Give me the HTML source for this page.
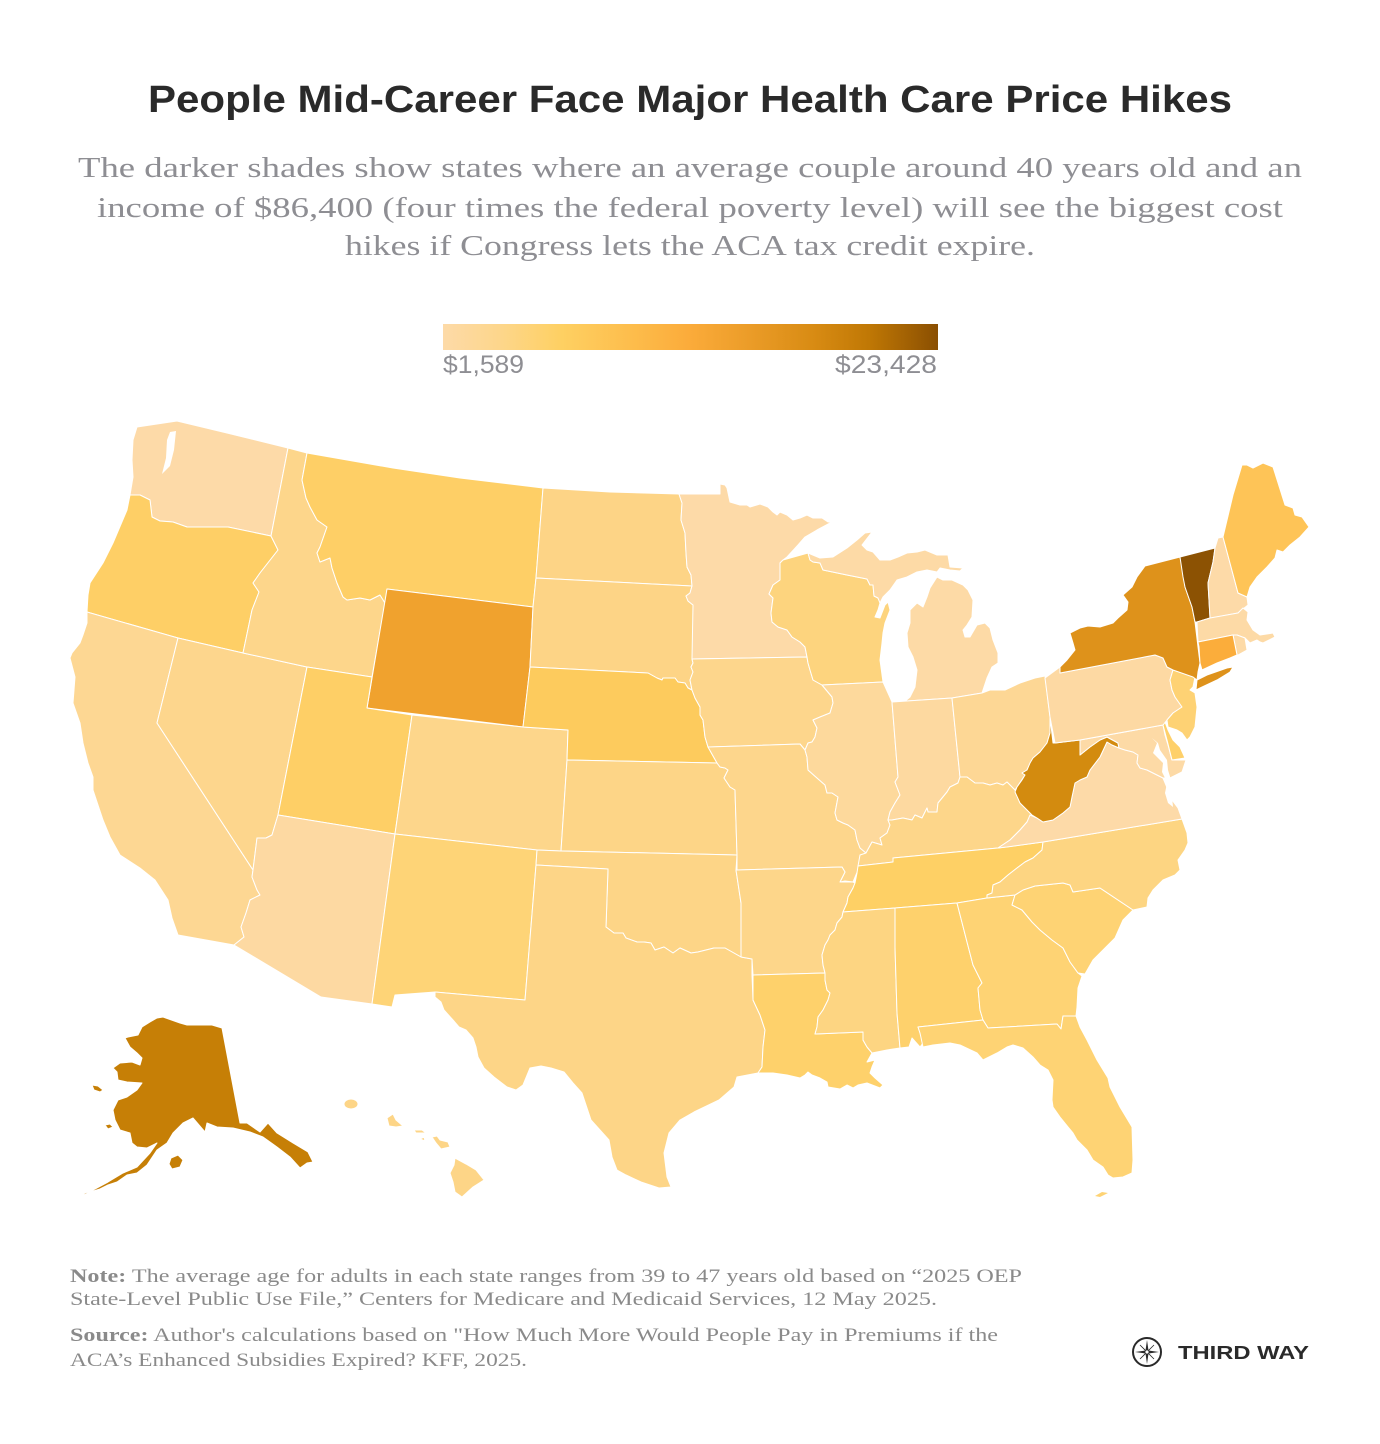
<!DOCTYPE html>
<html><head><meta charset="utf-8"><style>
html,body{margin:0;padding:0;background:#fff}
svg{display:block}
.st{stroke:#fff;stroke-width:1;stroke-linejoin:round}
</style></head><body>
<svg width="1380" height="1444" viewBox="0 0 1380 1444" xmlns="http://www.w3.org/2000/svg">
<defs>
<linearGradient id="lg" x1="0" x2="1" y1="0" y2="0">
<stop offset="0" stop-color="#fddaa8"/>
<stop offset="0.12" stop-color="#fdd68a"/>
<stop offset="0.24" stop-color="#fed062"/>
<stop offset="0.38" stop-color="#fdbd4c"/>
<stop offset="0.5" stop-color="#fbab3a"/>
<stop offset="0.62" stop-color="#eb9c28"/>
<stop offset="0.75" stop-color="#d88b13"/>
<stop offset="0.86" stop-color="#c07805"/>
<stop offset="1" stop-color="#8a4f02"/>
</linearGradient>
</defs>
<rect width="1380" height="1444" fill="#fff"/>

<text x="148" y="112" font-family="Liberation Sans, sans-serif" font-weight="bold" font-size="38" fill="#2a2a2a" textLength="1084" lengthAdjust="spacingAndGlyphs">People Mid-Career Face Major Health Care Price Hikes</text>

<g font-family="Liberation Serif, serif" font-size="29" fill="#8e8e93">
<text x="78" y="177" textLength="1224" lengthAdjust="spacingAndGlyphs">The darker shades show states where an average couple around 40 years old and an</text>
<text x="97" y="217" textLength="1186" lengthAdjust="spacingAndGlyphs">income of $86,400 (four times the federal poverty level) will see the biggest cost</text>
<text x="345" y="255" textLength="690" lengthAdjust="spacingAndGlyphs">hikes if Congress lets the ACA tax credit expire.</text>
</g>

<rect x="443" y="324" width="495" height="26" fill="url(#lg)"/>
<g font-family="Liberation Sans, sans-serif" font-size="25" fill="#8e8e93">
<text x="443" y="373" textLength="81" lengthAdjust="spacingAndGlyphs">$1,589</text>
<text x="835" y="373" textLength="102" lengthAdjust="spacingAndGlyphs">$23,428</text>
</g>

<g class="st">
<!-- WA -->
<polygon fill="#fddaa8" points="137,427 177,421 227,433 288,448 271,536 228,527 203,527 187,527 173,522 160,521 152,517 150,500 140,495 130,495 133,477 132,460 133,440"/>
<!-- OR -->
<polygon fill="#fecf66" points="130,495 140,495 150,500 152,517 160,521 173,522 187,527 203,527 228,527 271,536 278,550 260,573 253,583 259,592 252,610 243,653 178,638 87,612 88,595 90,583 103,563 113,543 127,510"/>
<!-- CA -->
<polygon fill="#fdd793" points="87,612 178,638 157,723 253,870 252,877 257,890 260,895 250,900 246,913 241,927 244,937 234,945 178,935 172,918 168,900 155,880 140,868 120,855 110,837 103,820 93,790 93,777 88,763 83,743 80,723 73,703 75,677 70,658 72,653 80,643 83,635 87,623"/>
<!-- NV -->
<polygon fill="#fdd68d" points="178,638 243,653 307,667 278,815 272,835 266,838 257,838 253,870 157,723"/>
<!-- ID -->
<polygon fill="#fdd68b" points="288,448 307,453 302,480 306,498 310,507 317,520 327,527 320,547 317,553 320,562 330,558 332,568 337,583 343,597 347,600 360,598 370,600 380,595 385,603 372,677 307,667 243,653 252,610 259,592 253,583 260,573 278,550 271,536"/>
<!-- MT -->
<polygon fill="#fecf66" points="307,453 393,468 460,478 543,488 536,578 533,607 387,589 385,603 380,595 370,600 360,598 347,600 343,597 337,583 332,568 330,558 320,562 317,553 320,547 327,527 317,520 310,507 306,498 302,480"/>
<!-- WY -->
<polygon fill="#f0a22e" points="387,589 533,607 530,667 523,727 367,708"/>
<!-- UT -->
<polygon fill="#fecf66" points="307,667 372,677 367,708 412,715 395,834 278,815"/>
<!-- CO -->
<polygon fill="#fdd68b" points="412,715 523,727 568,730 567,760 561,851 537,850 395,834"/>
<!-- AZ -->
<polygon fill="#fdd9a2" points="278,815 395,834 372,1004 321,997 234,945 244,937 241,927 246,913 250,900 260,895 257,890 252,877 253,870 257,838 266,838 272,835"/>
<!-- NM -->
<polygon fill="#fed477" points="395,834 537,850 536,865 525,1000 435,992 395,995 392,1007 372,1004"/>
<!-- ND -->
<polygon fill="#fdd486" points="543,488 610,492 679,494 682,503 681,520 685,533 686,553 687,567 691,575 692,586 536,578"/>
<!-- SD -->
<polygon fill="#fdd486" points="536,578 692,586 690,593 686,596 688,601 693,605 693,658 692,659 693,663 691,667 693,672 690,680 692,690 688,688 685,683 678,682 675,678 663,678 662,680 657,678 648,673 530,667 533,607"/>
<!-- NE -->
<polygon fill="#fdcb5d" points="530,667 648,673 657,678 662,680 663,678 675,678 678,682 685,683 688,688 692,690 695,698 700,707 700,715 703,720 705,737 708,747 717,763 567,760 568,730 523,727"/>
<!-- KS -->
<polygon fill="#fdd587" points="567,760 717,763 720,767 725,768 728,770 724,778 730,787 735,790 737,855 561,851"/>
<!-- OK -->
<polygon fill="#fdd587" points="537,850 561,851 737,855 736,870 741,903 741,957 725,948 714,948 698,952 691,953 680,948 673,953 664,947 655,950 651,943 644,942 637,942 626,938 623,933 614,933 606,927 608,869 536,865"/>
<!-- TX -->
<polygon fill="#fdd587" points="536,865 608,869 606,927 614,933 623,933 626,938 637,942 644,942 651,943 655,950 664,947 673,953 680,948 691,953 698,952 714,948 725,948 741,957 752,959 752,975 753,1000 760,1015 765,1030 763,1047 762,1067 758,1073 737,1077 734,1087 719,1100 694,1112 680,1120 669,1133 664,1153 667,1177 671,1187 659,1188 641,1182 626,1175 617,1170 612,1157 609,1140 600,1130 591,1120 582,1093 573,1083 564,1072 551,1068 541,1066 530,1068 523,1085 516,1090 507,1087 494,1077 484,1068 478,1057 476,1047 473,1038 466,1030 459,1027 453,1020 444,1010 441,1002 435,997 435,992 525,1000"/>
<!-- MN -->
<polygon fill="#fddaa8" points="679,494 720,494 720,484 725,485 727,488 730,502 740,505 747,505 750,507 760,504 768,507 773,512 777,515 780,512 787,515 793,520 800,518 807,515 813,518 822,518 828,522 832,522 817,530 805,537 798,545 787,557 783,560 780,563 780,580 773,585 769,594 773,598 771,613 772,622 778,627 787,630 792,637 800,642 805,647 807,657 692,659 693,605 688,601 686,596 690,593 692,586 691,575 687,567 686,553 685,533 681,520 682,503"/>
<!-- IA -->
<polygon fill="#fdd68c" points="692,659 807,657 808,663 810,670 813,680 822,685 832,697 833,703 830,713 820,717 813,720 817,728 815,737 812,742 808,743 805,750 800,744 710,747 708,747 705,737 703,720 700,715 700,707 695,698 692,690 690,680 693,672 691,667 693,663"/>
<!-- MO -->
<polygon fill="#fdd68c" points="708,747 800,744 805,750 807,757 808,770 817,778 825,785 827,793 832,793 838,797 835,813 837,820 843,823 848,825 855,830 857,840 860,848 866,853 867,860 860,865 858,870 853,882 845,881 840,882 845,872 842,867 737,870 737,855 735,790 730,787 724,778 728,770 725,768 720,767 717,763"/>
<!-- AR -->
<polygon fill="#fdd68a" points="737,870 842,867 845,872 840,882 853,882 855,883 853,888 848,897 847,903 843,912 842,917 837,923 835,930 830,935 828,940 825,945 822,955 823,965 825,973 753,975 752,959 741,957 741,903 736,870"/>
<!-- LA -->
<polygon fill="#fed16b" points="753,975 825,973 825,980 827,990 830,993 828,1000 823,1010 818,1017 817,1027 815,1034 863,1032 863,1040 867,1047 872,1053 867,1062 875,1060 872,1067 870,1073 875,1078 883,1085 880,1088 867,1083 858,1085 853,1088 847,1085 840,1089 828,1087 827,1082 820,1078 812,1075 808,1072 805,1075 800,1078 787,1075 773,1073 760,1073 758,1073 762,1067 763,1047 765,1030 760,1015 753,1000"/>
<!-- WI -->
<polygon fill="#fdd47e" points="783,560 808,553 810,560 813,562 820,563 823,570 847,575 867,579 870,585 873,585 874,596 878,598 880,603 878,610 875,617 880,618 885,605 888,602 890,610 885,623 883,633 882,643 880,660 883,682 822,685 813,680 810,670 808,663 807,657 805,647 800,642 792,637 787,630 778,627 772,622 771,613 773,598 769,594 773,585 780,580 780,563"/>
<!-- MI UP -->
<polygon fill="#fddaa6" points="808,553 820,558 833,557 847,548 857,540 865,533 872,532 862,545 867,550 873,552 880,560 890,560 898,557 907,553 917,552 925,550 937,555 948,555 950,567 963,568 960,571 950,570 940,568 937,572 927,570 917,572 907,577 897,580 890,590 883,597 880,603 878,598 874,596 873,585 870,585 867,579 847,575 823,570 820,563 813,562 810,560"/>
<!-- MI lower -->
<polygon fill="#fddaa6" points="892,705 895,707 903,703 910,697 915,687 917,670 913,657 908,647 907,633 910,623 910,610 917,603 923,607 927,597 930,588 937,577 943,580 952,580 963,585 968,590 973,600 972,617 967,625 963,630 965,637 970,637 977,625 985,623 990,628 993,640 998,653 998,663 992,667 987,678 982,693 952,698 892,702"/>
<!-- IL -->
<polygon fill="#fdd99c" points="822,685 883,682 892,702 898,777 895,782 900,795 895,803 890,812 888,820 890,825 887,833 880,838 882,845 872,842 866,853 860,848 857,840 855,830 848,825 843,823 837,820 835,813 838,797 832,793 827,793 825,785 817,778 808,770 807,757 805,750 808,743 812,742 815,737 817,728 813,720 820,717 830,713 833,703 832,697"/>
<!-- IN -->
<polygon fill="#fdd9a0" points="892,702 952,698 960,777 958,783 950,787 947,792 938,803 937,812 928,812 927,808 922,818 915,815 912,820 903,818 892,820 888,820 890,812 895,803 900,795 895,782 898,777"/>
<!-- OH -->
<polygon fill="#fdd795" points="952,698 982,693 990,690 1005,690 1020,683 1035,678 1045,676 1050,717 1050,733 1047,743 1040,752 1033,758 1027,770 1022,773 1025,775 1017,787 1015,790 1007,782 1003,785 997,783 990,785 983,783 975,783 967,777 960,777"/>
<!-- KY -->
<polygon fill="#fdd68a" points="1015,790 1020,803 1032,815 1027,822 1020,830 1010,840 998,848 893,858 893,862 858,866 860,855 866,853 872,842 882,845 880,838 887,833 890,825 888,820 892,820 903,818 912,820 915,815 922,818 927,808 928,812 937,812 938,803 947,792 950,787 958,783 960,777 967,777 975,783 983,783 990,785 997,783 1003,785 1007,782"/>
<!-- TN -->
<polygon fill="#fed065" points="858,866 893,862 893,858 998,848 1043,842 1042,850 1033,858 1025,862 1017,868 1008,875 1000,882 993,885 992,893 987,895 987,898 957,903 895,908 843,912 847,903 848,897 853,888 855,883 857,873"/>
<!-- MS -->
<polygon fill="#fdd582" points="843,912 895,908 895,947 897,1013 900,1048 887,1050 877,1052 872,1053 867,1047 863,1040 863,1032 815,1034 817,1027 818,1017 823,1010 828,1000 830,993 827,990 825,980 825,973 823,965 822,955 825,945 828,940 830,935 835,930 837,923 842,917"/>
<!-- AL -->
<polygon fill="#fed16c" points="895,908 957,903 967,942 973,965 982,983 978,988 980,1010 983,1020 918,1027 920,1033 923,1043 920,1047 912,1038 909,1047 900,1048 897,1013 895,947"/>
<!-- GA -->
<polygon fill="#fed374" points="957,903 987,898 1015,895 1012,905 1022,910 1032,922 1040,930 1052,940 1063,948 1070,962 1078,973 1082,976 1078,988 1077,1007 1076,1016 1063,1016 1061,1029 1057,1024 988,1028 983,1020 980,1010 978,988 982,983 973,965 967,942"/>
<!-- FL -->
<polygon fill="#fed374" points="918,1027 983,1020 988,1028 1057,1024 1061,1029 1063,1016 1076,1016 1080,1027 1087,1040 1097,1060 1108,1078 1110,1087 1120,1107 1132,1127 1133,1160 1132,1173 1123,1177 1113,1178 1108,1175 1103,1167 1093,1160 1087,1150 1077,1140 1073,1133 1068,1127 1060,1117 1053,1107 1052,1100 1053,1080 1048,1070 1040,1065 1033,1057 1023,1048 1013,1045 1007,1047 997,1053 983,1060 977,1053 960,1045 950,1043 933,1045 923,1047 920,1033"/>
<path fill="#fed374" stroke="none" d="M1095,1196 L1102,1192 L1108,1193 L1100,1197 Z"/>
<!-- SC -->
<polygon fill="#fed374" points="1015,895 1023,890 1035,886 1063,883 1070,885 1073,892 1100,888 1133,910 1123,920 1115,938 1103,950 1093,960 1085,974 1078,973 1070,962 1063,948 1052,940 1040,930 1032,922 1022,910 1012,905"/>
<!-- NC -->
<polygon fill="#fdd582" points="1043,842 1182,819 1187,833 1188,843 1185,850 1178,860 1180,870 1175,875 1163,880 1153,890 1148,898 1147,907 1133,910 1100,888 1073,892 1070,885 1063,883 1035,886 1023,890 1015,895 987,898 987,895 992,893 993,885 1000,882 1008,875 1017,868 1025,862 1033,858 1042,850"/>
<!-- VA -->
<polygon fill="#fddaa8" points="1030,815 1037,818 1043,822 1053,820 1063,813 1070,807 1072,797 1075,783 1080,780 1087,777 1090,770 1100,757 1107,742 1112,745 1119,748 1125,750 1133,752 1138,755 1137,763 1140,768 1147,770 1157,775 1163,778 1168,790 1172,800 1178,808 1182,819 1043,842 1007,847 998,848 1010,840 1020,830 1027,822"/>
<!-- WV -->
<polygon fill="#d38b0f" points="1050,717 1053,743 1055,743 1080,740 1080,755 1090,747 1100,740 1107,737 1118,743 1119,748 1112,745 1107,742 1100,757 1090,770 1087,777 1080,780 1075,783 1072,797 1070,807 1063,813 1053,820 1043,822 1037,818 1032,815 1020,803 1015,792 1017,787 1022,780 1025,775 1022,773 1027,770 1030,763 1033,758 1040,752 1047,743 1050,733"/>
<!-- MD -->
<polygon fill="#fddaa6" points="1080,740 1163,725 1165,735 1168,745 1172,760 1186,760 1182,772 1170,778 1163,778 1157,775 1147,770 1140,768 1137,763 1138,755 1133,752 1125,750 1119,748 1118,743 1107,737 1100,740 1090,747 1080,755"/>
<!-- DE -->
<polygon fill="#fed06a" points="1163,725 1165,722 1168,730 1173,740 1180,747 1185,758 1172,760 1167,740"/>
<!-- PA -->
<polygon fill="#fdd9a3" points="1045,678 1060,667 1060,673 1155,655 1163,658 1167,667 1173,670 1170,680 1172,690 1175,697 1182,707 1173,713 1167,720 1163,725 1080,740 1055,743 1050,717"/>
<!-- NJ -->
<polygon fill="#fed274" points="1173,670 1195,677 1193,687 1190,690 1195,693 1197,707 1195,727 1190,737 1187,740 1182,733 1177,730 1168,727 1167,720 1173,713 1182,707 1175,697 1172,690 1170,680"/>
<!-- NY -->
<polygon fill="#de921b" points="1060,667 1067,660 1075,650 1073,643 1070,633 1080,628 1088,626 1100,627 1113,623 1118,618 1127,610 1128,602 1123,595 1132,587 1137,577 1145,566 1180,557 1183,570 1185,587 1192,607 1195,622 1198,647 1200,663 1198,672 1197,680 1193,677 1173,670 1167,667 1163,658 1155,655 1060,673"/>
<polygon fill="#de921b" points="1197,680 1207,675 1227,668 1233,667 1230,672 1217,680 1200,688 1196,690"/>
<!-- VT -->
<polygon fill="#8c5203" points="1180,557 1215,548 1213,562 1208,583 1210,618 1197,622 1195,622 1192,607 1185,587 1183,577"/>
<!-- NH -->
<polygon fill="#fddaa8" points="1215,548 1218,538 1223,537 1238,593 1247,597 1248,605 1238,613 1212,618 1210,618 1208,583 1213,562"/>
<!-- ME -->
<polygon fill="#fec457" points="1223,537 1233,495 1242,465 1247,465 1253,468 1263,463 1273,467 1285,505 1293,508 1295,515 1302,517 1309,527 1300,537 1290,545 1283,552 1277,550 1275,558 1267,567 1257,577 1250,587 1247,597 1238,593"/>
<!-- MA -->
<polygon fill="#fddaa6" points="1197,622 1210,618 1238,613 1243,608 1248,612 1247,620 1253,630 1260,635 1273,633 1275,637 1263,643 1260,642 1257,640 1250,643 1245,638 1237,635 1233,635 1198,642"/>
<!-- RI -->
<polygon fill="#fddaa6" points="1233,635 1237,635 1245,638 1247,650 1238,655 1237,655"/>
<!-- CT -->
<polygon fill="#fbad3b" points="1198,642 1233,635 1237,655 1230,658 1217,663 1202,670 1200,663 1199,647"/>
<!-- AK -->
<polygon fill="#c67f06" points="163,1017 180,1023 187,1025 212,1025 222,1028 240,1123 247,1123 260,1132 268,1123 277,1133 293,1143 308,1152 313,1162 307,1163 300,1168 290,1157 277,1147 263,1137 250,1132 233,1128 217,1127 207,1123 205,1132 193,1118 183,1123 173,1133 167,1143 157,1150 147,1165 137,1173 127,1175 117,1182 108,1185 100,1189 90,1192 80,1197 85,1193 93,1190 108,1182 123,1173 137,1167 150,1153 157,1143 147,1148 137,1147 132,1143 130,1133 120,1130 115,1120 113,1110 118,1100 127,1097 137,1090 142,1083 127,1082 118,1080 117,1072 113,1068 120,1063 132,1062 140,1065 142,1058 137,1053 130,1047 125,1038 128,1037 138,1035 142,1027 150,1022 157,1018"/>
<polygon fill="#c67f06" points="171,1158 178,1155 183,1160 180,1167 172,1169 169,1164"/>
<polygon fill="#c67f06" points="92,1085 98,1086 103,1090 100,1092 94,1090"/>
<polygon fill="#c67f06" points="105,1125 110,1124 113,1127 108,1129"/>
<!-- HI -->
<ellipse fill="#fdd587" cx="351" cy="1104" rx="7" ry="5"/>
<polygon fill="#fdd587" points="387,1118 393,1114 396,1120 403,1126 396,1127 389,1126"/>
<polygon fill="#fdd587" points="414,1130 422,1130 426,1133 416,1133"/>
<polygon fill="#fdd587" points="420,1139 424,1137 425,1141"/>
<polygon fill="#fdd587" points="432,1137 437,1136 440,1140 448,1142 450,1147 441,1149 436,1143"/>
<polygon fill="#fdd587" points="455,1158 466,1164 476,1170 484,1180 473,1187 462,1197 455,1192 453,1182 450,1173 454,1165"/>
</g>
<!-- water cut-outs -->
<polygon fill="#fff" points="162,474 166,458 167,440 170,432 176,431 174,450 170,466"/>
<polygon fill="#fff" points="1152,738 1157,743 1153,753 1157,757 1163,763 1162,772 1165,778 1167,783 1165,793 1168,803 1173,807 1172,797 1172,783 1168,770 1167,760 1160,750 1158,743"/>

<!-- footer -->
<g font-family="Liberation Serif, serif" font-size="19" fill="#8a8a8a">
<text x="70" y="1282" textLength="952" lengthAdjust="spacingAndGlyphs"><tspan font-weight="bold">Note:</tspan> The average age for adults in each state ranges from 39 to 47 years old based on “2025 OEP</text>
<text x="70" y="1305" textLength="867" lengthAdjust="spacingAndGlyphs">State-Level Public Use File,” Centers for Medicare and Medicaid Services, 12 May 2025.</text>
<text x="70" y="1341" textLength="928" lengthAdjust="spacingAndGlyphs"><tspan font-weight="bold">Source:</tspan> Author's calculations based on "How Much More Would People Pay in Premiums if the</text>
<text x="70" y="1366" textLength="457" lengthAdjust="spacingAndGlyphs">ACA’s Enhanced Subsidies Expired? KFF, 2025.</text>
</g>

<!-- logo -->
<circle cx="1147" cy="1352" r="14" fill="none" stroke="#2a2a2a" stroke-width="2"/>
<path d="M1147,1340 L1148.5,1350.5 L1159,1352 L1148.5,1353.5 L1147,1364 L1145.5,1353.5 L1135,1352 L1145.5,1350.5 Z" fill="#2a2a2a"/>
<path d="M1140,1345 L1154,1359 M1154,1345 L1140,1359" stroke="#2a2a2a" stroke-width="0.8"/>
<circle cx="1147" cy="1352" r="2" fill="#fff" stroke="#2a2a2a" stroke-width="0.8"/>
<text x="1178" y="1359" font-family="Liberation Sans, sans-serif" font-weight="bold" font-size="18" fill="#2a2a2a" textLength="131" lengthAdjust="spacingAndGlyphs">THIRD WAY</text>
</svg>
</body></html>
